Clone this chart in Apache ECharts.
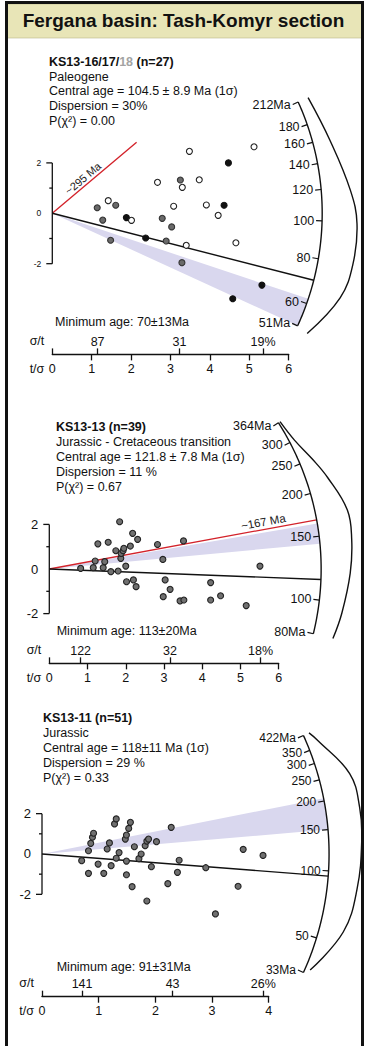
<!DOCTYPE html>
<html><head><meta charset="utf-8">
<script src="https://cdn.jsdelivr.net/npm/echarts@6/dist/echarts.min.js"></script>
<style>html,body{margin:0;padding:0;background:#fff}#c{width:367px;height:1046px}</style>
</head><body><div id="c"></div>
<script>
// ================= DATA =================
const headerTitle = 'Fergana basin: Tash-Komyr section';

// ---- Plot 1: KS13-16/17/18 ----
const p1Info = ['{b|KS13-16/17/}{g|18}{b| (n=27)}', '{n|Paleogene}', '{n|Central age = 104.5 ± 8.9 Ma (1σ)}', '{n|Dispersion = 30%}', '{n|P(χ²) = 0.00}'];
const p1MinText = 'Minimum age: 70±13Ma';
const p1OpenPts = [[1.42,0.50],[2.01,-0.28],[2.67,1.23],[3.08,0.28],[3.30,1.03],[3.40,-1.27],[3.48,2.46],[3.73,1.33],[3.91,0.33],[4.21,-0.08],[4.66,-1.17],[5.12,2.64]];
const p1GrayPts = [[1.14,0.22],[1.28,-0.27],[1.61,0.32],[1.48,-1.07],[2.79,-0.20],[3.03,-0.54],[2.89,-1.10],[3.25,1.32],[3.29,-1.96]];
const p1BlackPts = [[1.88,-0.17],[2.37,-0.98],[4.47,2.00],[4.36,0.32],[5.32,-2.85],[4.58,-3.39]];
const p1Central = 104.5;
const p1MinAge = 70;
const p1Band = [51, 62];
const p1RedAge = 390, p1RedLabel = '~295 Ma', p1RedExtent = 2.14;
const p1ArcTicks = [212, 180, 160, 140, 120, 100, 80, 60, 51];
const p1ArcLabels = ['212Ma', '180', '160', '140', '120', '100', '80', '60', '51Ma'];
const p1KdeAges = [212, 158, 118, 99, 80, 66, 50];
const p1KdeVals = [0.31, 0.49, 0.83, 1.0, 1.0, 0.86, 0.34];
const p1TMax = 6;
const p1SigmaT = [87, 31, 18.7];
const p1SigmaTLabels = ['87', '31', '19%'];

// ---- Plot 2: KS13-13 ----
const p2Info = ['{b|KS13-13 (n=39)}', '{n|Jurassic - Cretaceous transition}', '{n|Central age = 121.8 ± 7.8 Ma (1σ)}', '{n|Dispersion = 11 %}', '{n|P(χ²) = 0.67}'];
const p2MinText = 'Minimum age: 113±20Ma';
const p2Pts = [[0.82,0.03],[1.15,0.06],[1.20,0.36],[1.27,1.13],[1.41,0.06],[1.45,0.33],[1.54,1.20],[1.61,-0.12],[1.74,0.82],[1.80,-0.09],[1.84,2.12],[1.87,0.48],[1.88,0.70],[1.93,0.82],[1.95,0.93],[2.00,0.13],[2.02,-0.57],[2.12,1.03],[2.18,1.60],[2.20,-0.49],[2.27,-0.79],[2.31,1.33],[2.83,1.10],[2.97,0.43],[2.98,-1.24],[3.03,-0.49],[3.16,-0.91],[3.42,-1.43],[3.51,1.26],[3.52,-1.39],[4.22,-0.61],[4.22,-1.39],[4.48,-1.20],[5.15,-1.64],[5.51,0.13]];
const p2Central = 121.8;
const p2MinAge = 114;
const p2Band = [143, 163];
const p2RedAge = 167, p2RedLabel = '~167 Ma';
const p2ArcTicks = [364, 300, 250, 200, 150, 100, 80];
const p2ArcLabels = ['364Ma', '300', '250', '200', '150', '100', '80Ma'];
const p2KdeAges = [364, 300, 250, 214, 171, 144, 119, 94, 80];
const p2KdeVals = [0.06, 0.16, 0.41, 0.66, 1.0, 1.0, 0.91, 0.75, 0.63];
const p2TMax = 6;
const p2SigmaT = [122, 31.7, 18.1];
const p2SigmaTLabels = ['122', '32', '18%'];

// ---- Plot 3: KS13-11 ----
const p3Info = ['{b|KS13-11 (n=51)}', '{n|Jurassic}', '{n|Central age = 118±11 Ma (1σ)}', '{n|Dispersion = 29 %}', '{n|P(χ²) = 0.33}'];
const p3MinText = 'Minimum age: 91±31Ma';
const p3Pts = [[0.70,-0.33],[0.82,0.16],[0.82,-0.96],[0.86,0.53],[0.89,0.83],[0.91,1.03],[0.99,-0.50],[1.09,-0.96],[1.15,0.25],[1.19,0.55],[1.22,-0.58],[1.28,1.49],[1.31,1.74],[1.31,-0.21],[1.36,0.07],[1.47,0.74],[1.49,0.94],[1.49,-0.35],[1.49,-1.03],[1.53,1.27],[1.56,1.57],[1.59,-1.62],[1.63,0.36],[1.71,-0.23],[1.75,0.00],[1.82,0.41],[1.85,0.64],[1.88,0.74],[1.85,-2.33],[1.93,-0.63],[2.02,0.61],[2.22,-1.47],[2.28,1.32],[2.39,-0.91],[2.42,-0.31],[2.89,-0.68],[3.06,-2.97],[3.46,-1.60],[3.55,0.23],[3.90,-0.07]];
const p3Central = 118;
const p3MinAge = 95;
const p3Band = [150, 206];
const p3ArcTicks = [422, 350, 300, 250, 200, 150, 100, 50, 33];
const p3ArcLabels = ['422Ma', '350', '300', '250', '200', '150', '100', '50', '33Ma'];
const p3KdeAges = [422, 378, 246, 178, 133, 86, 57, 35];
const p3KdeVals = [0.18, 0.32, 0.91, 1.0, 0.97, 0.88, 0.71, 0.15];
const p3TMax = 4;
const p3SigmaT = [141.4, 43.4, 25.6];
const p3SigmaTLabels = ['141', '43', '26%'];

const yTickVals = [-2, -1, 0, 1, 2];
const yTickLabels = ['-2', '', '0', '', '2'];

// ================= STYLE / LAYOUT =================
const FONT = '"Liberation Sans", Arial, sans-serif';
const INK = '#111';
const BAND = '#d9d7ee';
const RED = '#d3222a';

const plots = [
  { central: p1Central, minAge: p1MinAge, band: p1Band, arcTicks: p1ArcTicks, arcLabels: p1ArcLabels,
    kdeAges: p1KdeAges, kdeVals: p1KdeVals, tMax: p1TMax, sigmaT: p1SigmaT, sigmaTLabels: p1SigmaTLabels, info: p1Info, minText: p1MinText,
    red: { age: p1RedAge, label: p1RedLabel, extent: p1RedExtent, along: 46, perp: 7, fs: 11 },
    series: [ {data: p1GrayPts, color: '#6a6a6a', border: '#333'}, {data: p1BlackPts, color: '#111', border: '#111'}, {data: p1OpenPts, color: '#fff', border: '#222'} ],
    left: 52.3, width: 236.4, top: 99.9, height: 254.5, yMin: -5.6, yMax: 4.5,
    arcR: 6.85, kdeAmp: 35, arcFs: 12.5, yFs: 8.5, infoLeft: 49, infoTop: 54.5, lh: 14.7, minLeft: 55, minTop: 314.5 },
  { central: p2Central, minAge: p2MinAge, band: p2Band, arcTicks: p2ArcTicks, arcLabels: p2ArcLabels,
    kdeAges: p2KdeAges, kdeVals: p2KdeVals, tMax: p2TMax, sigmaT: p2SigmaT, sigmaTLabels: p2SigmaTLabels, info: p2Info, minText: p2MinText,
    red: { age: p2RedAge, label: p2RedLabel, extent: null, along: 219, perp: 7.5, fs: 11.5 },
    series: [ {data: p2Pts, color: '#707070', border: '#222'} ],
    left: 49.3, width: 229.4, top: 401.75, height: 261.6, yMin: -4.23, yMax: 7.5,
    arcR: 7.11, kdeAmp: 32, arcFs: 12.5, yFs: 13, infoLeft: 56, infoTop: 419, lh: 15, minLeft: 56.7, minTop: 623.5 },
  { central: p3Central, minAge: p3MinAge, band: p3Band, arcTicks: p3ArcTicks, arcLabels: p3ArcLabels,
    kdeAges: p3KdeAges, kdeVals: p3KdeVals, tMax: p3TMax, sigmaT: p3SigmaT, sigmaTLabels: p3SigmaTLabels, info: p3Info, minText: p3MinText,
    red: null,
    series: [ {data: p3Pts, color: '#707070', border: '#222'} ],
    left: 42, width: 226.7, top: 712.8, height: 283.9, yMin: -7.075, yMax: 7,
    arcR: 5.065, kdeAmp: 34, arcFs: 12, yFs: 13, infoLeft: 43, infoTop: 710.5, lh: 15, minLeft: 56.7, minTop: 959.5 }
];

function logSpace(a, b, n) { const r = []; for (let i = 0; i <= n; i++) r.push(a * Math.pow(b / a, i / n)); return r; }

function makeRender(c) {
  return function (params, api) {
    const o = api.coord([0, 0]);
    const kx = api.coord([1, 0])[0] - o[0];
    const ky = o[1] - api.coord([0, 1])[1];
    const R = c.arcR * kx;
    const ang = t => Math.atan(Math.log(t / c.central) * ky / kx);
    const pt = (t, r) => { const a = ang(t); return [o[0] + r * Math.cos(a), o[1] - r * Math.sin(a)]; };
    const ch = [];
    const txt = (x, y, text, fs, align, extra) => Object.assign({ type: 'text', x: x, y: y,
      style: { text: text, fill: INK, fontSize: fs, fontFamily: FONT, fontWeight: 'normal', align: align, verticalAlign: 'middle' } }, extra || {});
    // band
    const bandPts = [[o[0], o[1]]].concat(logSpace(c.band[0], c.band[1], 40).map(t => pt(t, R)));
    ch.push({ type: 'polygon', shape: { points: bandPts }, style: { fill: BAND } });
    // red line
    if (c.red) {
      const a = ang(c.red.age);
      const L = c.red.extent != null ? c.red.extent * kx / Math.cos(a) : R;
      const e = [o[0] + L * Math.cos(a), o[1] - L * Math.sin(a)];
      ch.push({ type: 'line', shape: { x1: o[0], y1: o[1], x2: e[0], y2: e[1] }, style: { stroke: RED, lineWidth: 1.3 } });
      const d = c.red.along, p = c.red.perp;
      const lx = o[0] + d * Math.cos(a) - p * Math.sin(a), ly = o[1] - d * Math.sin(a) - p * Math.cos(a);
      const t = txt(lx, ly, c.red.label, c.red.fs, 'center', { rotation: a });
      t.style.fill = '#222';
      ch.push(t);
    }
    // minimum-age line
    const m = pt(c.minAge, R);
    ch.push({ type: 'line', shape: { x1: o[0], y1: o[1], x2: m[0], y2: m[1] }, style: { stroke: INK, lineWidth: 1.4 } });
    // arc
    const ar = [c.arcTicks[c.arcTicks.length - 1], c.arcTicks[0]];
    ch.push({ type: 'polyline', shape: { points: logSpace(ar[0], ar[1], 100).map(t => pt(t, R)) }, style: { stroke: INK, lineWidth: 1.4, fill: 'none' } });
    c.arcTicks.forEach((t, i) => {
      const p0 = pt(t, R), a = ang(t);
      const p1 = [p0[0] - 6 * Math.cos(a), p0[1] + 6 * Math.sin(a)];
      ch.push({ type: 'line', shape: { x1: p0[0], y1: p0[1], x2: p1[0], y2: p1[1] }, style: { stroke: INK, lineWidth: 1.2 } });
      ch.push(txt(p1[0] - 2, p1[1], c.arcLabels[i], c.arcFs, 'right'));
    });
    // age density curve outside the arc
    const kp = c.kdeAges.map((t, i) => pt(t, R + c.kdeAmp * c.kdeVals[i]));
    ch.push({ type: 'polyline', shape: { points: kp, smooth: 0.4 }, style: { stroke: INK, lineWidth: 1.4, fill: 'none' } });
    // standardised-estimate axis (bracket from -2 to 2)
    const yt = api.coord([0, 2]), yb = api.coord([0, -2]);
    ch.push({ type: 'line', shape: { x1: yt[0], y1: yt[1], x2: yb[0], y2: yb[1] }, style: { stroke: INK, lineWidth: 1.3 } });
    yTickVals.forEach((v, i) => {
      const p = api.coord([0, v]);
      const len = yTickLabels[i] ? 6 : 3;
      if (v !== 0) ch.push({ type: 'line', shape: { x1: p[0] - len, y1: p[1], x2: p[0], y2: p[1] }, style: { stroke: INK, lineWidth: 1.3 } });
      if (yTickLabels[i]) ch.push(txt(p[0] - 11, p[1], yTickLabels[i], c.yFs, 'right'));
    });
    return { type: 'group', children: ch };
  };
}

const option = {
  animation: false,
  backgroundColor: '#fff',
  graphic: [
    { type: 'rect', z: 0, shape: { x: 7, y: 4, width: 355, height: 34 }, style: { fill: '#e8e5b7', stroke: '#b9b68a', lineWidth: 0.6 } },
    { type: 'rect', z: 1, shape: { x: 6.5, y: 2.5, width: 356, height: 1060 }, style: { fill: 'none', stroke: INK, lineWidth: 3 } }
  ],
  title: [], grid: [], xAxis: [], yAxis: [], series: []
};

option.title.push({ text: headerTitle, left: 'center', top: 11, padding: 0, textStyle: { fontSize: 19, fontWeight: 'bold', fontFamily: FONT, color: INK } });

plots.forEach((c, i) => {
  const base = { fontSize: 12.5, fontFamily: FONT, color: INK, lineHeight: c.lh, fontWeight: 'normal' };
  option.title.push({ text: c.info.join('\n'), left: c.infoLeft, top: c.infoTop, padding: 0,
    textStyle: Object.assign({}, base, { rich: {
      b: Object.assign({}, base, { fontWeight: 'bold' }),
      g: Object.assign({}, base, { fontWeight: 'bold', color: '#a3a3a3' }),
      n: Object.assign({}, base)
    } }) });
  option.title.push({ text: c.minText, left: c.minLeft, top: c.minTop, padding: 0, textStyle: Object.assign({}, base, { lineHeight: 15 }) });

  option.grid.push({ left: c.left, top: c.top, width: c.width, height: c.height, show: false });
  const ticks = []; for (let v = 1; v <= c.tMax; v++) ticks.push(v);
  option.xAxis.push({ gridIndex: i, type: 'value', min: 0, max: c.tMax, interval: 1, position: 'bottom',
    axisLine: { onZero: false, lineStyle: { color: INK, width: 1.3 } },
    axisTick: { customValues: ticks, length: 6, lineStyle: { color: INK, width: 1.3 } },
    axisLabel: { fontSize: 12.5, fontFamily: FONT, color: INK, margin: 8 },
    splitLine: { show: false },
    name: 't/σ', nameLocation: 'start', nameGap: 8,
    nameTextStyle: { fontSize: 12.5, fontFamily: FONT, color: INK, align: 'right', verticalAlign: 'top', padding: [8, 0, 0, 0] } });
  const precs = c.sigmaT.map(s => 100 / s);
  option.xAxis.push({ gridIndex: i, type: 'value', min: 0, max: c.tMax, position: 'bottom',
    axisLine: { show: false, onZero: false },
    axisTick: { inside: true, customValues: [0].concat(precs), length: 6, lineStyle: { color: INK, width: 1.3 } },
    axisLabel: { inside: true, customValues: precs, margin: 6, fontSize: 12.5, fontFamily: FONT, color: INK,
      formatter: v => { let k = 0; precs.forEach((p, j) => { if (Math.abs(p - v) < Math.abs(precs[k] - v)) k = j; });
        return c.sigmaTLabels[k]; } },
    splitLine: { show: false },
    name: 'σ/t', nameLocation: 'start', nameGap: 8,
    nameTextStyle: { fontSize: 12.5, fontFamily: FONT, color: INK, align: 'right', verticalAlign: 'bottom', padding: [0, 0, 7, 0] } });
  option.yAxis.push({ gridIndex: i, type: 'value', min: c.yMin, max: c.yMax, show: false });

  option.series.push({ type: 'custom', xAxisIndex: 2 * i, yAxisIndex: i, data: [[0, 0]], clip: false, silent: true, z: 2, renderItem: makeRender(c) });
  c.series.forEach(s => option.series.push({ type: 'scatter', xAxisIndex: 2 * i, yAxisIndex: i, data: s.data, symbolSize: 6, z: 5, silent: true,
    itemStyle: { color: s.color, borderColor: s.border, borderWidth: 1.1, opacity: 1 } }));
});

const chart = echarts.init(document.getElementById('c'), null, { renderer: 'svg' });
chart.setOption(option);
</script>
</body></html>
